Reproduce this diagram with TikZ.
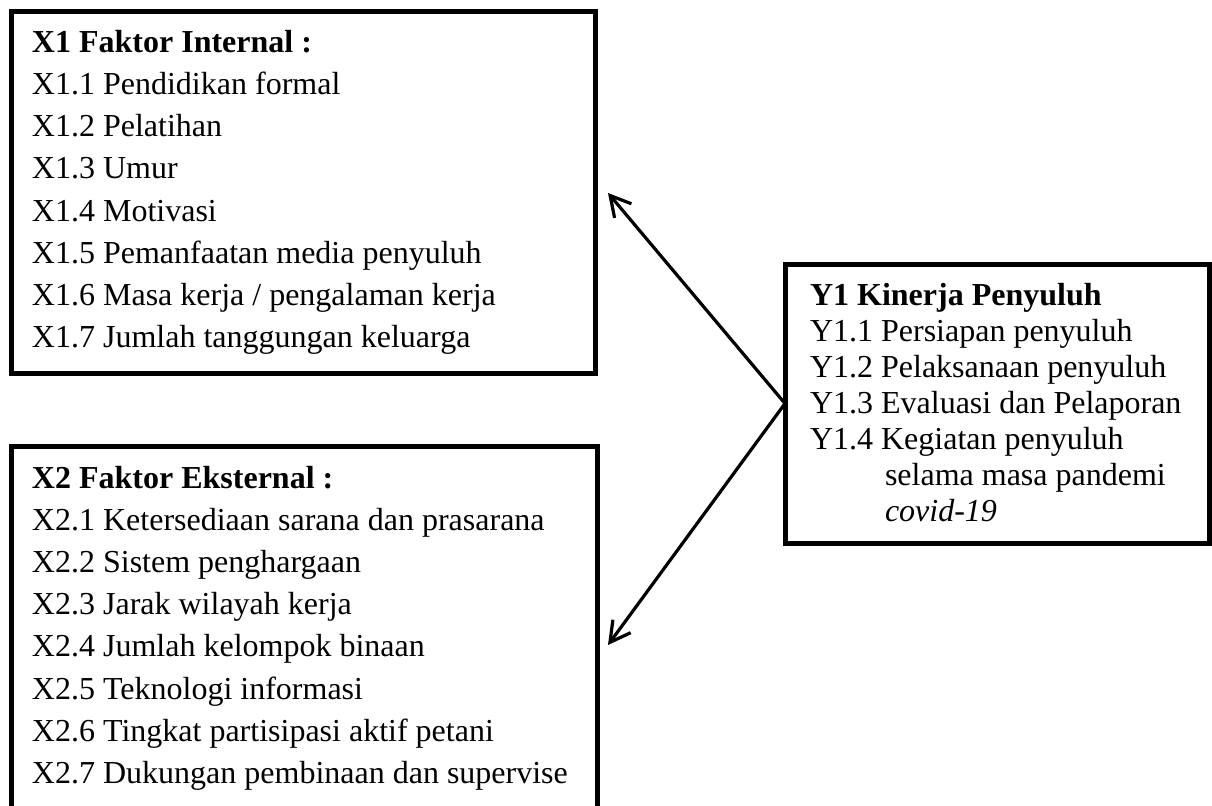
\documentclass[tikz,border=0pt]{standalone}
\usepackage{fontspec}
\setmainfont{Liberation Serif}
\usetikzlibrary{arrows.meta}
\begin{document}
\begin{tikzpicture}[x=0.5pt,y=-0.5pt,
  boxframe/.style={draw=black, line width=2.5pt, inner sep=0pt, outer sep=0pt, anchor=north west},
  txt/.style={anchor=base west, inner sep=0pt, outer sep=0pt, font=\fontsize{16pt}{19pt}\selectfont},
  ttl/.style={anchor=base west, inner sep=0pt, outer sep=0pt, font=\fontsize{16pt}{19pt}\selectfont\bfseries},
  link/.style={line width=1.6pt, -{Straight Barb[length=10pt,width=11pt]}}]
\useasboundingbox (0,0) rectangle (1212,805);
\fill[white] (0,0) rectangle (1212,805);

% frames
\node[boxframe, minimum width=292pt, minimum height=181pt] (X1) at (11,11) {};
\node[boxframe, minimum width=293pt, minimum height=200pt] (X2) at (11,446) {};
\node[boxframe, minimum width=212pt, minimum height=139.5pt] (Y1) at (785,264) {};

% X1 text
\node[ttl] (x1t) at (32,52) {X1 Faktor Internal :};
\node[txt] (x11) at (32,94) {X1.1 Pendidikan formal};
\node[txt] (x12) at (32,136) {X1.2 Pelatihan};
\node[txt] (x13) at (32,178) {X1.3 Umur};
\node[txt] (x14) at (32,221) {X1.4 Motivasi};
\node[txt] (x15) at (32,263) {X1.5 Pemanfaatan media penyuluh};
\node[txt] (x16) at (32,305) {X1.6 Masa kerja / pengalaman kerja};
\node[txt] (x17) at (32,347) {X1.7 Jumlah tanggungan keluarga};

% X2 text
\node[ttl] (x2t) at (32,488) {X2 Faktor Eksternal :};
\node[txt] (x21) at (32,530) {X2.1 Ketersediaan sarana dan prasarana};
\node[txt] (x22) at (32,572) {X2.2 Sistem penghargaan};
\node[txt] (x23) at (32,614) {X2.3 Jarak wilayah kerja};
\node[txt] (x24) at (32,656) {X2.4 Jumlah kelompok binaan};
\node[txt] (x25) at (32,699) {X2.5 Teknologi informasi};
\node[txt] (x26) at (32,741) {X2.6 Tingkat partisipasi aktif petani};
\node[txt] (x27) at (32,783) {X2.7 Dukungan pembinaan dan supervise};

% Y1 text
\node[ttl] (y1t) at (810,305) {Y1 Kinerja Penyuluh};
\node[txt] (y11) at (810,341) {Y1.1 Persiapan penyuluh};
\node[txt] (y12) at (810,377) {Y1.2 Pelaksanaan penyuluh};
\node[txt] (y13) at (810,413) {Y1.3 Evaluasi dan Pelaporan};
\node[txt] (y14) at (810,449) {Y1.4 Kegiatan penyuluh};
\node[txt] (y15) at (885,485) {selama masa pandemi};
\node[txt] (y16) at (885,521) {\itshape covid-19};

% arrows
\coordinate (t1) at (608,193);
\coordinate (t2) at (608,645);
\draw[link] (Y1.west) -- (t1);
\draw[link] (Y1.west) -- (t2);
\end{tikzpicture}
\end{document}
